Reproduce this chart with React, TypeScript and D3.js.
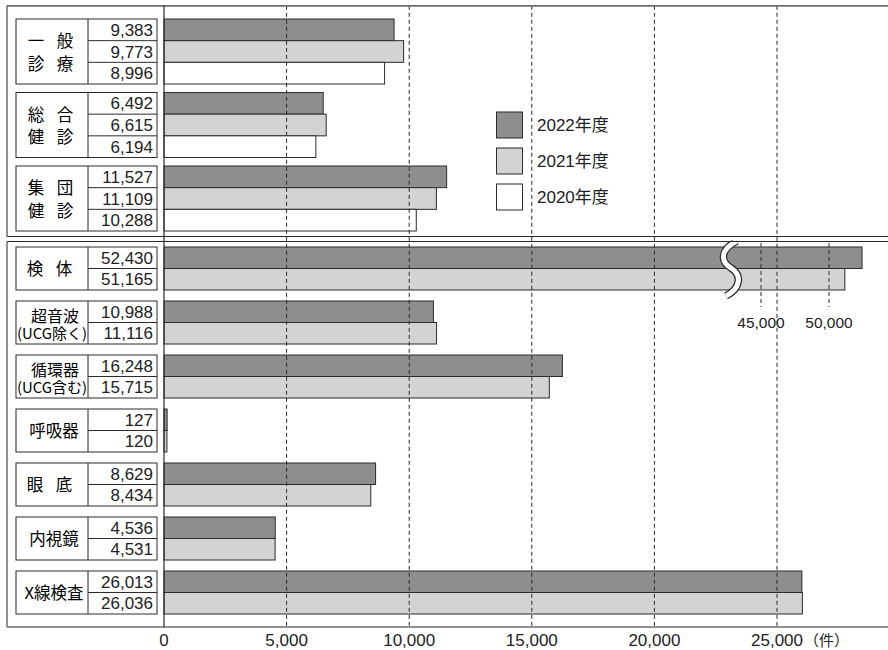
import React from "react";
import * as d3 from "d3";

// 健診・検査件数（年度別）
const topCategories = [
  ["一", "般", "診", "療"],
  ["総", "合", "健", "診"],
  ["集", "団", "健", "診"],
];
const bottomCategories = [
  ["検", "体"],
  ["超音波", "(UCG除く)"],
  ["循環器", "(UCG含む)"],
  ["呼吸器"],
  ["眼", "底"],
  ["内視鏡"],
  ["X線検査"],
];
const top2022 = [9383, 6492, 11527];
const top2021 = [9773, 6615, 11109];
const top2020 = [8996, 6194, 10288];
const bottom2022 = [52430, 10988, 16248, 127, 8629, 4536, 26013];
const bottom2021 = [51165, 11116, 15715, 120, 8434, 4531, 26036];
const legendLabels = ["2022年度", "2021年度", "2020年度"];
const xTicks = [0, 5000, 10000, 15000, 20000, 25000];
const breakTicks = [45000, 50000];
const unitLabel = "（件）";

const COLORS = ["#8d8e90", "#d2d3d5", "#ffffff"];
const INK = "#2b2b2b";
const FRAME = "#6e6e6e";
const NUM_FONT = "'Liberation Sans', 'Noto Sans CJK JP', sans-serif";
const JP_FONT = "'Noto Sans CJK JP', 'Liberation Sans', sans-serif";

const W = 888;
const H = 650;
const LEFT = 7;
const AXIS_X = 164;
const TOP = 5.8;
const TOP_PANEL_BOTTOM = 236.5;
const BOTTOM_PANEL_TOP = 241.5;
const AXIS_Y = 627;

const x = d3.scaleLinear().domain([0, 25000]).range([AXIS_X, 777]);
// broken section of the axis used for the 検体 bars
const xb = d3.scaleLinear().domain([45000, 50000]).range([761, 829]);
const BREAK_AT = 40000;
const fmt = d3.format(",");

const topRow = 21.67;
const topGroupY = d3.scaleLinear().domain([0, 1]).range([19, 92.5]);
const botRow = 21.5;
const botGroupY = d3.scaleLinear().domain([0, 1]).range([247, 301]);

const TBL_L = 16;
const TBL_M = 88;
const TBL_R = 157;

function barEnd(v: number) {
  return v > BREAK_AT ? xb(v) : x(v);
}

function LabelCell({ y0, rows, label }: { y0: number; rows: number; label: string[] }) {
  const h = rows === 3 ? topRow * 3 : botRow * 2;
  const cy = y0 + h / 2;
  const els: React.ReactNode[] = [];
  if (label.length === 4) {
    const ys = [cy - 11.5, cy + 11];
    [0, 1].forEach((r) => {
      els.push(
        <text key={`a${r}`} x={36} y={ys[r]} textAnchor="middle" dominantBaseline="central" fontSize={16.5} fontFamily={JP_FONT}>{label[r * 2]}</text>,
        <text key={`b${r}`} x={65} y={ys[r]} textAnchor="middle" dominantBaseline="central" fontSize={16.5} fontFamily={JP_FONT}>{label[r * 2 + 1]}</text>
      );
    });
  } else if (label.length === 2 && label[0].length === 1) {
    els.push(
      <text key="a" x={35} y={cy - 0.5} textAnchor="middle" dominantBaseline="central" fontSize={16.5} fontFamily={JP_FONT}>{label[0]}</text>,
      <text key="b" x={64} y={cy - 0.5} textAnchor="middle" dominantBaseline="central" fontSize={16.5} fontFamily={JP_FONT}>{label[1]}</text>
    );
  } else if (label.length === 2) {
    els.push(
      <text key="a" textAnchor="middle" dominantBaseline="central" fontFamily={JP_FONT}>
        <tspan x={55} y={cy - 7.5} fontSize={16}>{label[0]}</tspan>
        <tspan x={52} y={cy + 9.5} fontSize={14.5} textLength={70} lengthAdjust="spacingAndGlyphs">{label[1]}</tspan>
      </text>
    );
  } else {
    els.push(
      <text key="a" x={54} y={cy - 0.5} textAnchor="middle" dominantBaseline="central" fontSize={16.5} fontFamily={JP_FONT}>{label[0]}</text>
    );
  }
  return <g>{els}</g>;
}

function Group({ y0, row, values, label }: { y0: number; row: number; values: number[]; label: string[] }) {
  const n = values.length;
  return (
    <g>
      {values.map((v, i) => (
        <rect key={`bar${i}`} x={x(0)} y={y0 + i * row} width={barEnd(v) - x(0)} height={row}
          fill={COLORS[i]} stroke={INK} strokeWidth={1} />
      ))}
      <rect x={TBL_L} y={y0} width={TBL_R - TBL_L} height={row * n} fill="#fff" stroke={INK} strokeWidth={1} />
      <line x1={TBL_M} x2={TBL_M} y1={y0} y2={y0 + row * n} stroke={INK} strokeWidth={1} />
      {d3.range(1, n).map((i) => (
        <line key={`rl${i}`} x1={TBL_M} x2={TBL_R} y1={y0 + i * row} y2={y0 + i * row} stroke={INK} strokeWidth={1} />
      ))}
      {values.map((v, i) => (
        <text key={`val${i}`} x={153} y={y0 + i * row + row / 2 + 0.5} textAnchor="end" dominantBaseline="central"
          fontSize={17} fontFamily={NUM_FONT} fill="#222">{fmt(v)}</text>
      ))}
      <LabelCell y0={y0} rows={n} label={label} />
    </g>
  );
}

export default function App() {
  const breakPath =
    `M 737 241 C 719 250, 721 262, 731 268 C 742 275, 741 288, 726 296`;
  return (
    <svg width={W} height={H} viewBox={`0 0 ${W} ${H}`} style={{ position: "absolute", left: 0, top: 0, background: "#fff" }}>
      <rect x={0} y={0} width={W} height={H} fill="#fff" />

      {/* bars and label tables */}
      {topCategories.map((lab, g) => (
        <Group key={`t${g}`} y0={topGroupY(g)} row={topRow}
          values={[top2022[g], top2021[g], top2020[g]]} label={lab} />
      ))}
      {bottomCategories.map((lab, g) => (
        <Group key={`b${g}`} y0={botGroupY(g)} row={botRow}
          values={[bottom2022[g], bottom2021[g]]} label={lab} />
      ))}

      {/* dashed grid lines */}
      {xTicks.slice(1).map((t) => (
        <line key={`g${t}`} x1={x(t)} x2={x(t)} y1={TOP} y2={AXIS_Y} stroke={INK} strokeWidth={1} strokeDasharray="4 3" />
      ))}
      {breakTicks.map((t) => (
        <g key={`bt${t}`}>
          <line x1={xb(t)} x2={xb(t)} y1={243} y2={307} stroke={INK} strokeWidth={1} strokeDasharray="4 3" />
          <text x={xb(t)} y={322} textAnchor="middle" dominantBaseline="central" fontSize={15.5} fontFamily={NUM_FONT} fill="#222">{fmt(t)}</text>
        </g>
      ))}

      {/* axis break over the 検体 bars */}
      <path d={breakPath} fill="none" stroke={INK} strokeWidth={7.5} />
      <path d={breakPath} fill="none" stroke="#fff" strokeWidth={5} />
      <rect x={700} y={TOP_PANEL_BOTTOM + 1} width={60} height={BOTTOM_PANEL_TOP - TOP_PANEL_BOTTOM - 2} fill="#fff" />

      {/* frame */}
      <line x1={LEFT} x2={W} y1={TOP} y2={TOP} stroke={FRAME} strokeWidth={1.8} />
      <line x1={LEFT} x2={W} y1={TOP_PANEL_BOTTOM} y2={TOP_PANEL_BOTTOM} stroke={INK} strokeWidth={1.2} />
      <line x1={LEFT} x2={W} y1={BOTTOM_PANEL_TOP} y2={BOTTOM_PANEL_TOP} stroke={INK} strokeWidth={1.2} />
      <line x1={LEFT} x2={W} y1={AXIS_Y} y2={AXIS_Y} stroke={FRAME} strokeWidth={1.5} />
      <line x1={LEFT} x2={LEFT} y1={TOP} y2={TOP_PANEL_BOTTOM} stroke={FRAME} strokeWidth={1.5} />
      <line x1={LEFT} x2={LEFT} y1={BOTTOM_PANEL_TOP} y2={AXIS_Y} stroke={FRAME} strokeWidth={1.5} />
      <line x1={x(0)} x2={x(0)} y1={TOP} y2={AXIS_Y} stroke={INK} strokeWidth={1.2} />

      {/* x axis labels */}
      {xTicks.map((t) => (
        <text key={`xl${t}`} x={x(t)} y={640} textAnchor="middle" dominantBaseline="central" fontSize={17} fontFamily={NUM_FONT} fill="#222">{fmt(t)}</text>
      ))}
      <text x={x(25000) + 27} y={639} textAnchor="start" dominantBaseline="central" fontSize={15} fontFamily={JP_FONT} fill="#222">{unitLabel}</text>

      {/* legend */}
      {legendLabels.map((l, i) => (
        <g key={`lg${i}`}>
          <rect x={496.5} y={112 + i * 36} width={26} height={26} fill={COLORS[i]} stroke={INK} strokeWidth={1} />
          <text x={537} y={125 + i * 36} dominantBaseline="central" fontSize={17} fontFamily={NUM_FONT} fill="#222">{l}</text>
        </g>
      ))}
    </svg>
  );
}
